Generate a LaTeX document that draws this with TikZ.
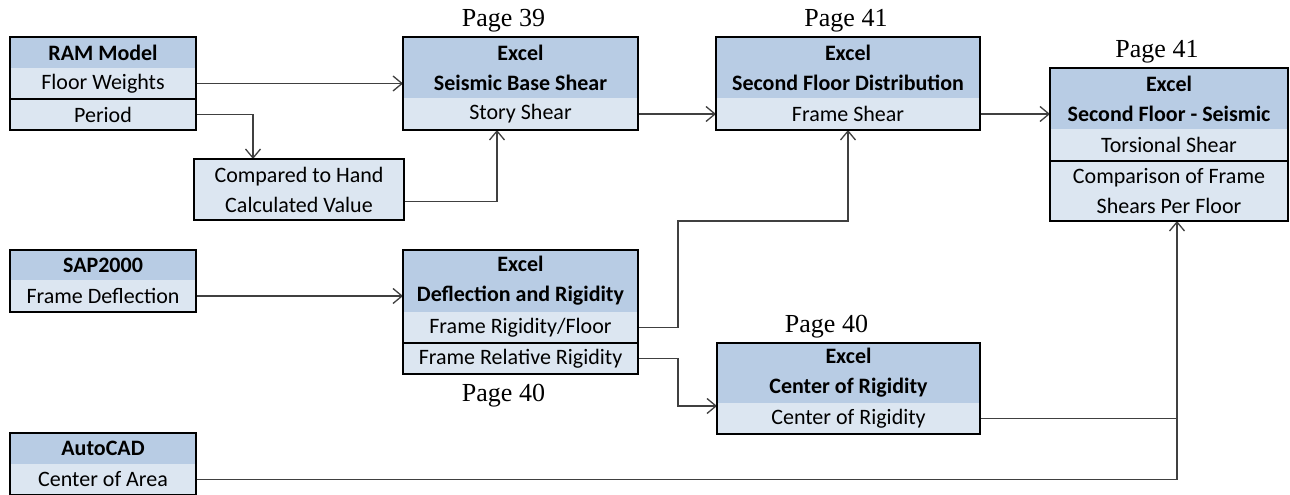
\documentclass[tikz,border=0pt]{standalone}
\usepackage{fontspec}
\setmainfont{Carlito}
\newfontfamily\pagefont{Liberation Serif}
\usetikzlibrary{positioning,arrows.meta}
\definecolor{headblue}{RGB}{184,204,228}
\definecolor{rowblue}{RGB}{220,230,241}
\definecolor{wiregray}{RGB}{64,64,64}
\tikzset{%
	>={Straight Barb[length=9pt,width=15pt]},
	inner sep=0pt,%
	outer sep=0pt,%
	boxhead/.style={fill=headblue,minimum width=#1,minimum height=31pt,align=center,
		font=\fontsize{22}{30}\selectfont\bfseries},%
	boxrow/.style={fill=rowblue,minimum width=#1,minimum height=31pt,align=center,
		font=\fontsize{22}{30}\selectfont},%
	boxframe/.style={draw=black,line width=2.2pt},%
	sepline/.style={draw=black,line width=1.2pt},%
	wire/.style={draw=wiregray,line width=1.3pt},%
	pagelabel/.style={font=\pagefont\fontsize{26}{30}\selectfont}%
}

\begin{document}
\begin{tikzpicture}[x=1pt,y=-1pt]
	\useasboundingbox (0,0) rectangle (1290,495);
	
	%% source programs (left column)
	\node[boxhead=186pt,anchor=north west] (ram) at (10,37) {RAM Model};
	\node[boxrow=186pt,below=0pt of ram] (ramfw) {Floor Weights};
	\node[boxrow=186pt,below=0pt of ramfw] (ramper) {Period};
	
	\node[boxhead=186pt,minimum height=30pt,anchor=north west] (sap) at (10,250) {SAP2000};
	\node[boxrow=186pt,minimum height=32pt,below=0pt of sap] (saprow) {Frame Deflection};
	
	\node[boxhead=186pt,anchor=north west] (cad) at (10,433) {AutoCAD};
	\node[boxrow=186pt,below=0pt of cad] (cadrow) {Center of Area};
	
	%% hand check
	\node[boxrow=210pt,minimum height=61pt,anchor=north west] (cmp) at (194,159)
		{Compared to Hand\\Calculated Value};
	
	%% excel sheets
	\node[boxhead=235pt,minimum height=61pt,anchor=north west] (sbs) at (403,37)
		{Excel\\Seismic Base Shear};
	\node[boxrow=235pt,minimum height=32pt,below=0pt of sbs] (sbsrow) {Story Shear};
	
	\node[boxhead=264pt,minimum height=61pt,anchor=north west] (sfd) at (716,37)
		{Excel\\Second Floor Distribution};
	\node[boxrow=264pt,minimum height=32pt,below=0pt of sfd] (sfdrow) {Frame Shear};
	
	\node[boxhead=238pt,minimum height=61pt,anchor=north west] (sfs) at (1050,68)
		{Excel\\Second Floor - Seismic};
	\node[boxrow=238pt,minimum height=32pt,below=0pt of sfs] (sfstor) {Torsional Shear};
	\node[boxrow=238pt,minimum height=60pt,below=0pt of sfstor] (sfscmp)
		{Comparison of Frame\\Shears Per Floor};
	
	\node[boxhead=235pt,minimum height=62pt,anchor=north west] (def) at (403,250)
		{Excel\\Deflection and Rigidity};
	\node[boxrow=235pt,below=0pt of def] (defrig) {Frame Rigidity/Floor};
	\node[boxrow=235pt,below=0pt of defrig] (defrel) {Frame Relative Rigidity};
	
	\node[boxhead=263pt,minimum height=60pt,anchor=north west] (cor) at (717,343)
		{Excel\\Center of Rigidity};
	\node[boxrow=263pt,below=0pt of cor] (corrow) {Center of Rigidity};
	
	%% page references
	\node[pagelabel,above=5pt] (p39) at ([xshift=-17pt]sbs.north) {Page 39};
	\node[pagelabel,above=5pt] (p41a) at ([xshift=-2pt]sfd.north) {Page 41};
	\node[pagelabel,above=5pt] (p41b) at ([xshift=-12pt]sfs.north) {Page 41};
	\node[pagelabel,above=5pt] (p40a) at ([xshift=-22pt]cor.north) {Page 40};
	\node[pagelabel,below=10pt] (p40b) at ([xshift=-17pt]defrel.south) {Page 40};
	
	%% connectors
	\draw[wire,->] (ramfw.east) -- (ramfw.east -| sbs.west);
	\draw[wire,->] (ramper.east) -| ([xshift=59pt]cmp.north west);
	\draw[wire,->] ([yshift=-12pt]cmp.east) -| ([xshift=94pt]sbsrow.south west);
	\draw[wire,->] (sbsrow.east) -- (sfdrow.west);
	\draw[wire,->] (sfdrow.east) -- (sfdrow.east -| sfs.west);
	\draw[wire,->] (saprow.east) -- (saprow.east -| def.west);
	\draw[wire,->] (defrig.east) -- ++(40,0) |- ([yshift=-91pt]sfdrow.south) -- (sfdrow.south);
	\draw[wire,->] (defrel.east) -- ++(40,0) |- ([yshift=-3pt]corrow.north west);
	\path (sfscmp.south |- cadrow.east) ++(8,0) coordinate (jn);
	\draw[wire] (corrow.east) -- (corrow.east -| jn);
	\draw[wire,->] (cadrow.east) -- (jn) -- (jn |- sfscmp.south);
	
	%% row separators and box outlines
	\draw[sepline] (ramfw.south west) -- (ramfw.south east);
	\draw[sepline] (defrig.south west) -- (defrig.south east);
	\draw[sepline] (sfstor.south west) -- (sfstor.south east);
	\draw[boxframe] (ram.north west) rectangle (ramper.south east);
	\draw[boxframe] (sap.north west) rectangle (saprow.south east);
	\draw[boxframe] (cad.north west) rectangle (cadrow.south east);
	\draw[boxframe] (cmp.north west) rectangle (cmp.south east);
	\draw[boxframe] (sbs.north west) rectangle (sbsrow.south east);
	\draw[boxframe] (sfd.north west) rectangle (sfdrow.south east);
	\draw[boxframe] (sfs.north west) rectangle (sfscmp.south east);
	\draw[boxframe] (def.north west) rectangle (defrel.south east);
	\draw[boxframe] (cor.north west) rectangle (corrow.south east);
\end{tikzpicture}
\end{document}
